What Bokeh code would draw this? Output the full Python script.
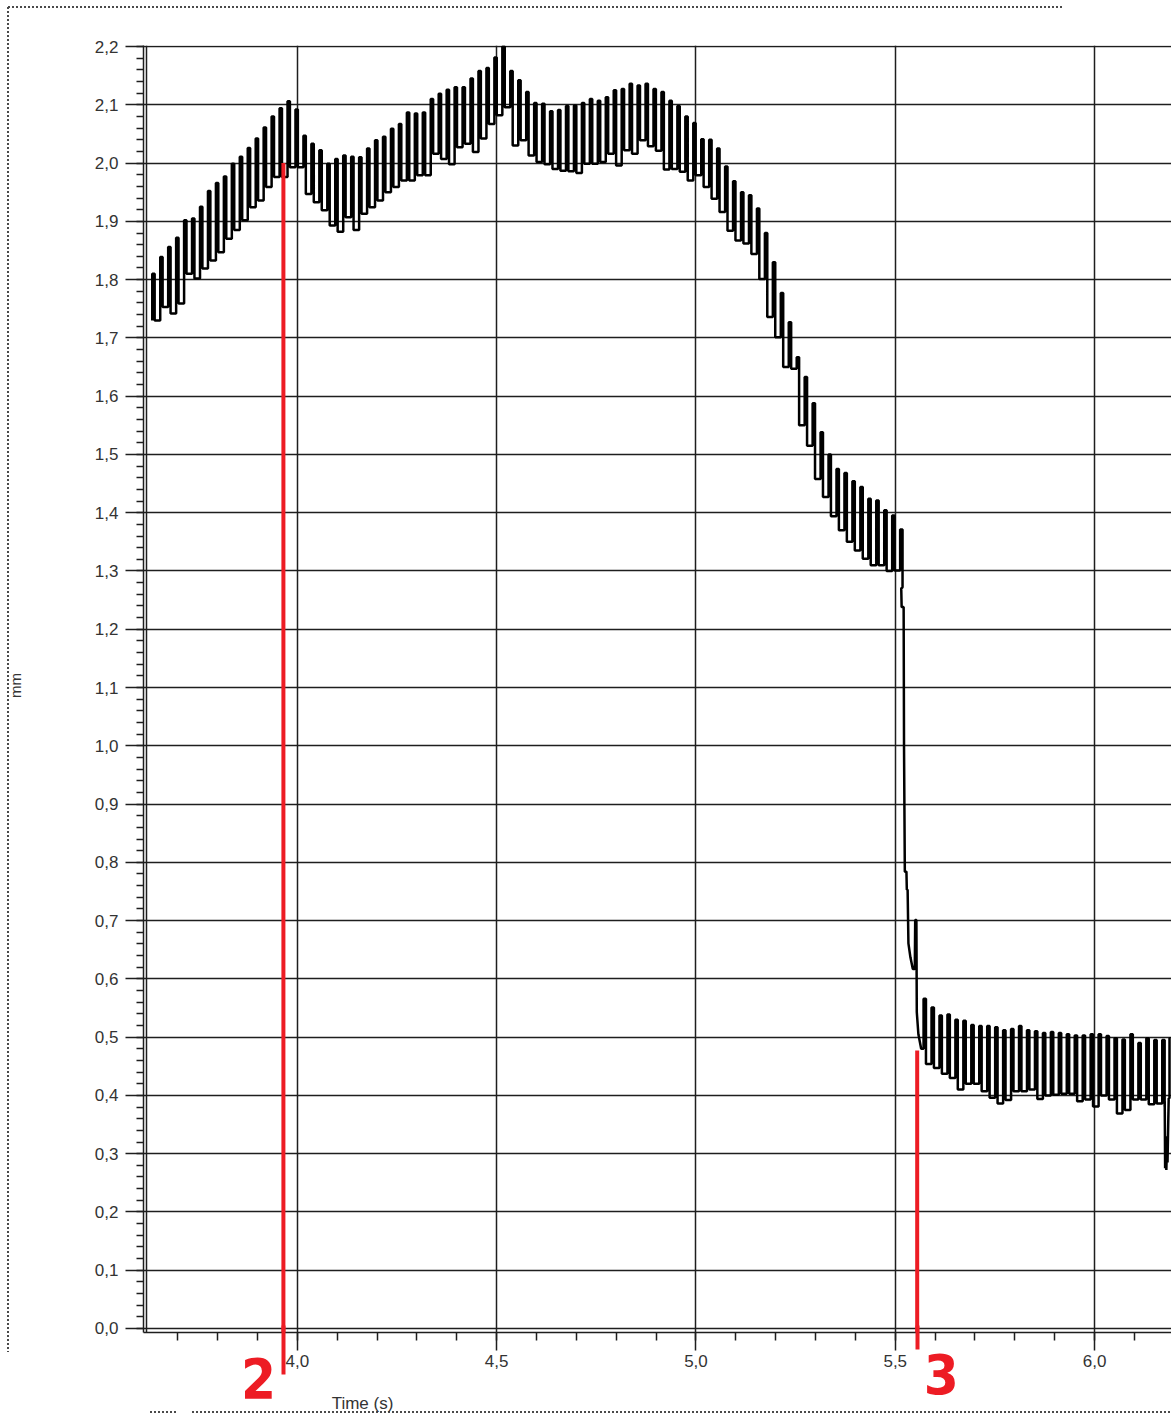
import math
from bokeh.plotting import figure
from bokeh.models import (Range1d, SingleIntervalTicker, FixedTicker, CustomJSTickFormatter,
                          Span, Label, LinearAxis, InlineStyleSheet)
from bokeh.embed import file_html
from bokeh.resources import INLINE

# ---------------- data (mm vs time in s) ----------------
cycle_period = 0.01996          # spacing of the oscillation spikes (s)

phase1_start = 3.636            # first spike before the drop
phase1_peaks = [
    1.810, 1.839, 1.856, 1.872, 1.902, 1.905, 1.925, 1.952, 1.966, 1.977,
    1.999, 2.011, 2.026, 2.042, 2.061, 2.080, 2.094, 2.106, 2.092, 2.047,
    2.033, 2.022, 1.999, 2.007, 2.013, 2.011, 2.010, 2.025, 2.039, 2.045,
    2.059, 2.067, 2.087, 2.085, 2.087,
    2.110, 2.119, 2.126, 2.130, 2.130, 2.145, 2.158, 2.163, 2.181, 2.200,
    2.158, 2.142, 2.122, 2.103, 2.102, 2.089, 2.091, 2.098, 2.099, 2.103,
    2.110, 2.107, 2.113, 2.125, 2.127, 2.136, 2.133, 2.136, 2.127, 2.122,
    2.107, 2.098, 2.080, 2.069, 2.041, 2.040, 2.025,
    1.994, 1.969, 1.950, 1.945, 1.922, 1.880, 1.830, 1.777, 1.727, 1.667,
    1.633, 1.588, 1.538, 1.500, 1.475, 1.468, 1.454, 1.444, 1.424, 1.421,
    1.404, 1.395, 1.371,
]
phase1_troughs = [
    1.730, 1.753, 1.742, 1.759, 1.810, 1.802, 1.819, 1.833, 1.847, 1.870,
    1.885, 1.902, 1.924, 1.936, 1.959, 1.976, 1.976, 1.993, 1.993, 1.947,
    1.933, 1.919, 1.893, 1.882, 1.907, 1.885, 1.913, 1.924, 1.936, 1.950,
    1.959, 1.970, 1.970, 1.979, 1.979,
    2.016, 2.007, 1.998, 2.027, 2.033, 2.019, 2.042, 2.067, 2.082, 2.096,
    2.030, 2.039, 2.013, 2.002, 1.998, 1.990, 1.987, 1.986, 1.983, 1.999,
    1.999, 2.002, 2.016, 1.996, 2.022, 2.016, 2.039, 2.029, 2.021, 1.989,
    1.990, 1.985, 1.970, 1.979, 1.959, 1.939, 1.916,
    1.884, 1.867, 1.862, 1.844, 1.801, 1.736, 1.701, 1.650, 1.647, 1.550,
    1.515, 1.458, 1.427, 1.394, 1.370, 1.350, 1.335, 1.321, 1.310, 1.310,
    1.300, 1.301, 1.272,
]

# the fast drop between the two oscillating phases
drop_t = [5.515, 5.516, 5.521, 5.522, 5.524, 5.528, 5.529, 5.531, 5.533,
          5.538, 5.544, 5.549, 5.550, 5.553, 5.554, 5.558, 5.565]
drop_y = [1.270, 1.238, 1.238, 0.994, 0.784, 0.784, 0.753, 0.753, 0.661,
          0.637, 0.617, 0.617, 0.701, 0.701, 0.543, 0.505, 0.480]

phase2_start = 5.571
phase2_peaks = [
    0.566, 0.551, 0.537, 0.539, 0.530, 0.528, 0.521, 0.519, 0.519, 0.517,
    0.512, 0.514, 0.519, 0.512, 0.510, 0.507, 0.509, 0.507, 0.505, 0.503,
    0.503, 0.505, 0.505, 0.502, 0.498, 0.496, 0.505, 0.490, 0.498, 0.495,
    0.495,
]
phase2_troughs = [
    0.454, 0.447, 0.437, 0.430, 0.410, 0.420, 0.420, 0.407, 0.396, 0.386,
    0.392, 0.407, 0.407, 0.410, 0.394, 0.400, 0.401, 0.403, 0.403, 0.390,
    0.393, 0.381, 0.400, 0.393, 0.369, 0.375, 0.393, 0.393, 0.385, 0.386,
    0.381,
]

# last few samples at the right edge
tail_t = [6.176, 6.177, 6.179, 6.180, 6.182, 6.183, 6.185, 6.186, 6.188, 6.188, 6.191]
tail_y = [0.390, 0.275, 0.330, 0.272, 0.320, 0.285, 0.360, 0.395, 0.395, 0.498, 0.498]

# red event markers
marker_t = [3.965, 5.555]
marker_top = [2.000, 0.477]
marker_text = ["2", "3"]

x_tick_interval = 0.5
y_tick_interval = 0.1
x_title = "Time (s)"
y_title = "mm"


def spikes(start, peaks, troughs, prev, width=0.006):
    xs, ys = [], []
    for i, (pk, tr) in enumerate(zip(peaks, troughs)):
        t = start + i * cycle_period
        xs += [t, t, t + width, t + width]
        ys += [prev, pk, pk, tr]
        prev = tr
    return xs, ys


x1, y1 = spikes(phase1_start, phase1_peaks, phase1_troughs, phase1_troughs[0])
x2, y2 = spikes(phase2_start, phase2_peaks, phase2_troughs, drop_y[-1])
sig_t = x1 + drop_t + x2 + tail_t
sig_y = y1 + drop_y + y2 + tail_y

# ---------------- layout ----------------
W, H = 1171, 1414
FL, FR, FT, FB = 143, 1171, 45, 1332        # frame edges in pixels
X0, X1 = 3.614, 6.193
Y0, Y1 = -0.0069, 2.2018


def tx(px):
    return X0 + (px - FL) * (X1 - X0) / (FR - FL)


def ty(py):
    return Y0 + (FB - py) * (Y1 - Y0) / (FB - FT)


dots = InlineStyleSheet(css="""
:host {
  background-color: white;
  background-image:
    repeating-linear-gradient(to right, #4a4a4a 0px, #4a4a4a 2px, transparent 2px, transparent 4px),
    repeating-linear-gradient(to bottom, #4a4a4a 0px, #4a4a4a 2px, transparent 2px, transparent 4px),
    repeating-linear-gradient(to right, #4a4a4a 0px, #4a4a4a 2px, transparent 2px, transparent 4px),
    repeating-linear-gradient(to right, #4a4a4a 0px, #4a4a4a 2px, transparent 2px, transparent 4px);
  background-size: 1054px 2px, 2px 1345px, 26px 2px, 979px 2px;
  background-position: 8px 6px, 7px 7px, 150px 1411px, 192px 1411px;
  background-repeat: no-repeat;
}
""")

p = figure(width=W, height=H, output_backend="svg", toolbar_location=None,
           x_range=Range1d(X0, X1), y_range=Range1d(Y0, Y1),
           min_border_left=FL, min_border_right=W - FR,
           min_border_top=FT, min_border_bottom=H - FB,
           stylesheets=[dots])
p.outline_line_color = None
p.background_fill_color = "white"
p.border_fill_color = None

fmt = CustomJSTickFormatter(code="return tick.toFixed(1).replace('.', ',');")
xt = SingleIntervalTicker(interval=x_tick_interval, num_minor_ticks=5)
yt = SingleIntervalTicker(interval=y_tick_interval, num_minor_ticks=5)
p.xaxis.ticker = xt
p.yaxis.ticker = yt
p.xgrid.ticker = xt
p.ygrid.ticker = yt
p.xaxis.formatter = fmt
p.yaxis.formatter = fmt

AX = "#1e1e1e"
TXT = "#333333"
for g in (p.xgrid, p.ygrid):
    g.grid_line_color = AX
    g.grid_line_width = 1.5

for ax in (p.xaxis, p.yaxis):
    ax.axis_line_color = AX
    ax.axis_line_width = 1.5
    ax.major_tick_line_color = AX
    ax.minor_tick_line_color = AX
    ax.major_tick_line_width = 1.5
    ax.minor_tick_line_width = 1.5
    ax.major_tick_in = 0
    ax.minor_tick_in = 0
    ax.major_tick_out = 18
    ax.major_label_text_font = "Liberation Sans"
    ax.major_label_text_font_size = "17px"
    ax.major_label_text_color = TXT

p.xaxis.minor_tick_out = 8
p.xaxis.major_label_standoff = 4
p.yaxis.minor_tick_out = 7
p.yaxis.major_label_standoff = 7

# inner border line of the plot area (double line look)
p.add_layout(Span(location=tx(146), dimension="height", line_color=AX, line_width=1.5))

# signal
p.line(sig_t, sig_y, line_color="black", line_width=2.5)

# red event markers: part inside the plot area
RED = "#ED1C24"
p.segment(x0=marker_t, y0=marker_top, x1=marker_t, y1=[Y0] * len(marker_t),
          line_color=RED, line_width=4)

# continuation of the red markers below the time axis (ticks of a bare axis)
SY = 1370   # screen position of this extra axis line
red_axis = LinearAxis(ticker=FixedTicker(ticks=marker_t[:1], minor_ticks=marker_t[1:]),
                      formatter=CustomJSTickFormatter(code="return '';"),
                      axis_line_color=None,
                      major_tick_line_color=RED, major_tick_line_width=4,
                      minor_tick_line_color=RED, minor_tick_line_width=4,
                      major_tick_in=SY - FB + 6, major_tick_out=1375 - SY,
                      minor_tick_in=SY - FB + 6, minor_tick_out=1350 - SY,
                      major_label_text_font_size="1px", major_label_standoff=0)
p.add_layout(red_axis, "below")

# x-axis title
p.add_layout(Label(x=tx(362), y=ty(1403), text=x_title, text_align="center",
                   text_baseline="middle", text_font="Liberation Sans",
                   text_font_size="17px", text_color=TXT), "below")

# red marker numbers
offs = [(-25, 0), (24, 4)]
for t, txt, (dx, dy) in zip(marker_t, marker_text, offs):
    p.add_layout(Label(x=t, y=ty(1377), x_offset=dx, y_offset=dy, text=txt,
                       text_align="center", text_baseline="middle", text_color=RED,
                       text_font_style="bold",
                       text_font="Liberation Sans Narrow, DejaVu Sans Condensed, Liberation Sans",
                       text_font_size="56px"), "left")

# y-axis title
p.add_layout(Label(x=tx(15), y=ty(685), text=y_title, angle=math.pi / 2,
                   text_align="center", text_baseline="middle",
                   text_font="Liberation Sans", text_font_size="15px",
                   text_color=TXT), "left")

open("out.html", "w").write(file_html(p, INLINE))
